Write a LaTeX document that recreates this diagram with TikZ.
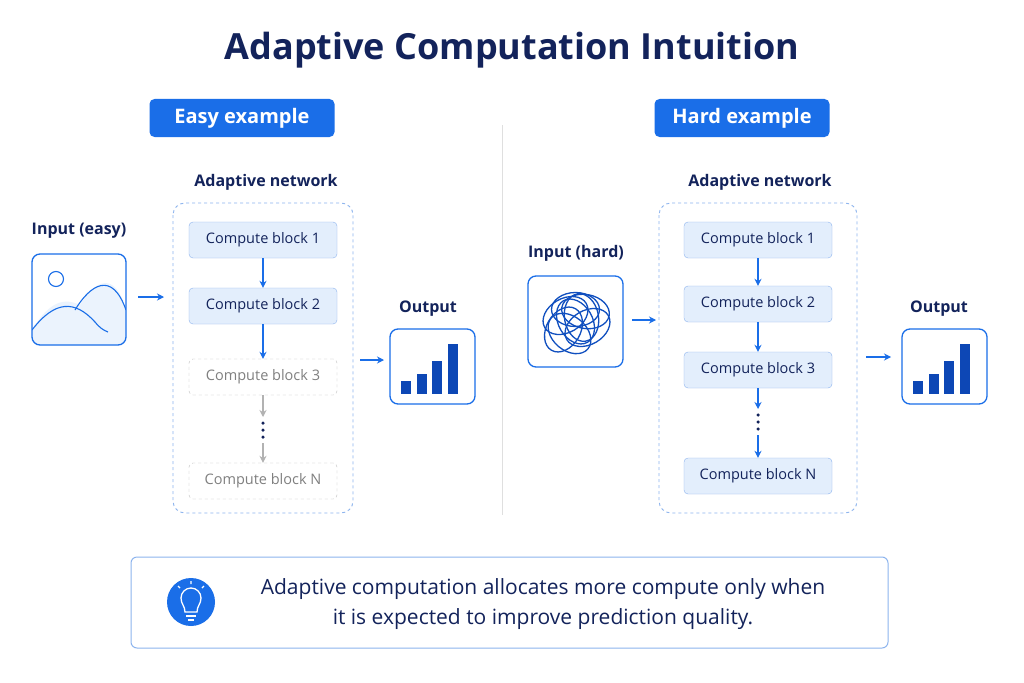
\documentclass[tikz,border=0pt]{standalone}
\usepackage{fontspec}
\setmainfont{Open Sans}
\usetikzlibrary{arrows.meta}
\definecolor{navy}{HTML}{13235B}
\definecolor{bblue}{HTML}{1A6EE8}
\definecolor{lblue}{HTML}{E3EEFC}
\definecolor{eblue}{HTML}{8DB4EE}
\definecolor{dblue}{HTML}{0D47B5}
\begin{document}
\begin{tikzpicture}[x=1pt,y=-1pt,
 badge/.style={fill=bblue,rounded corners=5pt,text=white,font=\fontsize{20}{24}\selectfont\bfseries,minimum height=38pt,inner sep=0pt},
 lab/.style={text=navy,font=\fontsize{16}{19}\selectfont\bfseries},
 blk/.style={draw=eblue,fill=lblue,rounded corners=4pt,minimum width=148pt,minimum height=36pt,text=navy,font=\fontsize{14.5}{17}\selectfont,inner sep=0pt},
 gblk/.style={draw=gray!50,dashed,rounded corners=4pt,minimum width=148pt,minimum height=36pt,text=gray,font=\fontsize{14.5}{17}\selectfont,inner sep=0pt},
 cont/.style={draw=eblue,dashed,line width=0.9pt,rounded corners=12pt},
 arr/.style={-{Stealth[length=7pt,width=7pt]},bblue,line width=1.4pt},
 garr/.style={-{Stealth[length=7pt,width=7pt]},gray!60,line width=1.4pt},
 dot/.style={circle,fill=navy,inner sep=0pt,minimum size=3.5pt},
 ibox/.style={draw=bblue,line width=1.3pt,rounded corners=8pt,fill=white}]
\useasboundingbox (0,0) rectangle (1024,682);
\fill[white] (0,0) rectangle (1024,682);
\node[text=navy,font=\fontsize{36}{40}\selectfont\bfseries] (title) at (512,50) {Adaptive Computation Intuition};
\node[badge,minimum width=185pt] (easy) at (242,118) {Easy example};
\node[badge,minimum width=175pt] (hard) at (742,118) {Hard example};
\draw[gray!25,line width=1pt] (502,125) -- (502,515);
% left
\node[lab] (anL) at (266,182) {Adaptive network};
\draw[cont] (173,203) rectangle (353,513);
\node[blk] (L1) at (263,240) {Compute block 1};
\node[blk] (L2) at (263,306) {Compute block 2};
\node[gblk] (L3) at (263,377) {Compute block 3};
\node[gblk] (LN) at (263,481) {Compute block N};
\node[dot] (Ld1) at (263,423) {};
\node[dot] (Ld2) at (263,430) {};
\node[dot] (Ld3) at (263,437) {};
\coordinate (Lg1) at (263,417);
\coordinate (Lg2) at (263,443);
\draw[arr] (L1) -- (L2);
\draw[arr] (L2) -- (L3);
\draw[garr] (L3) -- (Lg1);
\draw[garr] (Lg2) -- (LN);
\node[lab] (inL) at (79,231) {Input (easy)};
\begin{scope}
\clip[rounded corners=8pt] (32,254) rectangle (126,345);
\fill[white] (32,254) rectangle (126,345);
\fill[lblue!70] (32,330) .. controls (50,300) and (65,298) .. (80,305) .. controls (95,280) and (115,270) .. (126,310) -- (126,345) -- (32,345) -- cycle;
\draw[bblue,line width=1.1pt] (32,330) .. controls (55,300) and (75,300) .. (95,322) .. controls (100,328) and (103,330) .. (108,332);
\draw[bblue,line width=1.1pt] (75,310) .. controls (90,285) and (112,270) .. (126,310);
\end{scope}
\node[draw=bblue,line width=1.3pt,rounded corners=8pt,minimum width=94pt,minimum height=91pt] (imgL) at (79,299.5) {};
\draw[bblue,line width=1.1pt] (56,279) circle (7.5pt);
\coordinate (aLs) at (138,297);
\coordinate (aLe) at (164,297);
\draw[arr] (aLs) -- (aLe);
\node[lab] (outL) at (428,309) {Output};
\node[ibox,minimum width=85pt,minimum height=75pt] (oL) at (432.5,366.5) {};
\foreach \i/\h in {0/13,1/20,2/33,3/50} \fill[dblue] (401+\i*15.5,394) rectangle ++(10,-\h);
\coordinate (aL2s) at (360,360);
\coordinate (aL2e) at (384,360);
\draw[arr] (aL2s) -- (aL2e);
% right
\node[lab] (anR) at (760,182) {Adaptive network};
\draw[cont] (659,203) rectangle (857,513);
\node[blk] (R1) at (758,240) {Compute block 1};
\node[blk] (R2) at (758,304) {Compute block 2};
\node[blk] (R3) at (758,370) {Compute block 3};
\node[blk] (RN) at (758,476) {Compute block N};
\node[dot] (Rd1) at (758,415) {};
\node[dot] (Rd2) at (758,422) {};
\node[dot] (Rd3) at (758,429) {};
\coordinate (Rg1) at (758,409);
\coordinate (Rg2) at (758,435);
\draw[arr] (R1) -- (R2);
\draw[arr] (R2) -- (R3);
\draw[arr] (R3) -- (Rg1);
\draw[arr] (Rg2) -- (RN);
\node[lab] (inR) at (576,253) {Input (hard)};
\node[ibox,minimum width=95pt,minimum height=91pt] (imgR) at (575.5,321.5) {};
\foreach \a/\dx/\dy in {0/0/-12,30/12/6,60/-12/8,100/6/-4,140/-6/12,170/10/-10,210/-10/-6,120/0/0}
  \draw[dblue!80!bblue,line width=1.3pt,rotate around={\a:(575.5+\dx,321.5+\dy)}] (575.5+\dx,321.5+\dy) ellipse (24pt and 17pt);
\coordinate (aRs) at (632,320);
\coordinate (aRe) at (656,320);
\draw[arr] (aRs) -- (aRe);
\node[lab] (outR) at (939,309) {Output};
\node[ibox,minimum width=85pt,minimum height=75pt] (oR) at (944.5,366.5) {};
\foreach \i/\h in {0/13,1/20,2/33,3/50} \fill[dblue] (913+\i*15.5,394) rectangle ++(10,-\h);
\coordinate (aR2s) at (866,357);
\coordinate (aR2e) at (891,357);
\draw[arr] (aR2s) -- (aR2e);
% bottom
\node[draw=eblue,line width=1pt,rounded corners=6pt,minimum width=757pt,minimum height=91pt] (note) at (509.5,602.5) {};
\node[circle,fill=bblue,minimum size=48pt,inner sep=0pt] (bulb) at (191,602) {};
\draw[white,line width=1.3pt] (185,612) .. controls (185,606) and (181,604) .. (181,598) arc[start angle=180,end angle=0,radius=10pt] .. controls (201,604) and (197,606) .. (197,612) -- cycle;
\draw[white,line width=1.3pt] (186,616) -- (196,616) (188,620) -- (194,620);
\draw[white,line width=1.2pt] (191,581) -- (191,584) (178,586) -- (180,588) (204,586) -- (202,588);
\node[text=navy,font=\fontsize{21}{30}\selectfont,align=center] (txt) at (543,604) {Adaptive computation allocates more compute only when\\it is expected to improve prediction quality.};
\end{tikzpicture}
\end{document}
